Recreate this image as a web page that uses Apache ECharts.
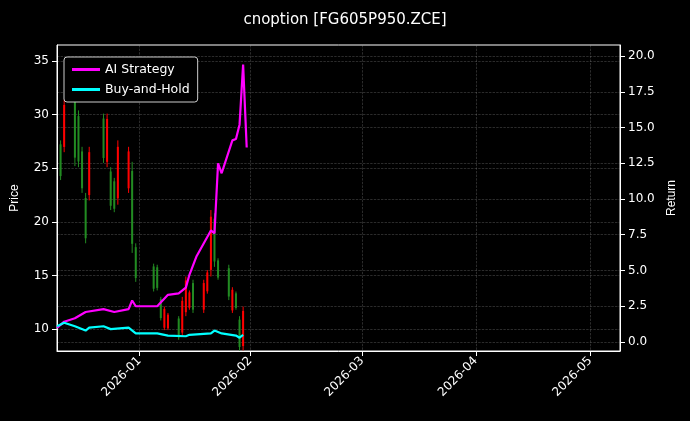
<!DOCTYPE html>
<html><head><meta charset="utf-8">
<script src="https://cdn.jsdelivr.net/npm/echarts@6/dist/echarts.min.js"></script>
<style>body{margin:0;background:#000}#c{width:690px;height:421px}</style>
</head><body><div id="c"></div>
<script>
// candles: date, low, high, up(1 = red) / down(0 = green)
var candleDates=['2025-12-10','2025-12-11','2025-12-14','2025-12-15','2025-12-16','2025-12-17','2025-12-18','2025-12-22','2025-12-23','2025-12-24','2025-12-25','2025-12-26','2025-12-29','2025-12-30','2025-12-31','2026-01-05','2026-01-06','2026-01-07','2026-01-08','2026-01-09','2026-01-12','2026-01-13','2026-01-14','2026-01-15','2026-01-16','2026-01-19','2026-01-20','2026-01-21','2026-01-22','2026-01-23','2026-01-26','2026-01-27','2026-01-28','2026-01-29','2026-01-30'];
var candleLow =[23.9,26.5,25.2,25.1,22.7,18.0,22.0,25.5,25.1,21.1,20.9,21.6,22.7,17.1,14.4,13.5,13.6,10.8,9.9,9.9,9.0,9.3,11.2,11.8,11.5,11.5,13.3,14.9,15.8,14.6,12.7,11.5,11.8,8.0,8.0];
var candleHigh=[27.6,31.4,33.1,30.4,27.0,22.7,27.0,30.1,30.1,25.1,24.1,27.6,27.0,25.6,18.0,16.1,16.0,13.0,12.1,11.5,11.2,13.0,14.9,13.6,14.6,14.6,15.5,21.1,20.8,16.6,16.0,13.9,13.5,11.2,12.1];
var candleUp  =[0,1,0,0,0,0,1,0,1,0,0,1,1,0,0,0,0,0,1,1,0,1,1,1,0,1,1,1,0,0,0,1,0,0,1];
var aiDates=['2025-12-09','2025-12-11','2025-12-14','2025-12-17','2025-12-22','2025-12-25','2025-12-29','2025-12-30','2025-12-31','2026-01-06','2026-01-09','2026-01-12','2026-01-14','2026-01-15','2026-01-17','2026-01-21','2026-01-22','2026-01-23','2026-01-24','2026-01-27','2026-01-28','2026-01-29','2026-01-30','2026-01-31'];
var aiValues=[0.98,1.42,1.66,2.1,2.3,2.1,2.3,2.9,2.5,2.5,3.3,3.4,3.8,4.7,6.0,7.8,7.6,12.5,11.8,14.1,14.2,15.2,19.4,13.6];
var bhDates=['2025-12-09','2025-12-11','2025-12-14','2025-12-17','2025-12-18','2025-12-22','2025-12-24','2025-12-29','2025-12-31','2026-01-06','2026-01-09','2026-01-14','2026-01-15','2026-01-21','2026-01-22','2026-01-24','2026-01-28','2026-01-29','2026-01-30'];
var bhValues=[1.1,1.35,1.1,0.8,1.0,1.1,0.9,1.0,0.6,0.6,0.45,0.4,0.5,0.6,0.8,0.6,0.45,0.3,0.5];
var monthLabels=['2026-01','2026-02','2026-03','2026-04','2026-05'];
var monthTickDays=[23,54,85.3,117,149];   // days after 2025-12-09 where the month ticks sit
var priceTicks=[10,15,20,25,30,35];
var returnTicks=[0,2.5,5,7.5,10,12.5,15,17.5,20];

var DAY=86400000;
function t(s){return Date.UTC(+s.slice(0,4),+s.slice(5,7)-1,s.length>7?+s.slice(8,10):1);}
var t0=t('2025-12-09');
var candleData=candleDates.map(function(d,i){
  var lo=candleLow[i],hi=candleHigh[i],r=hi-lo;
  var o=candleUp[i]?lo+r*0.1:hi-r*0.1, c=candleUp[i]?hi-r*0.1:lo+r*0.1;
  return [t(d),o,c,lo,hi,candleUp[i]];
});
var ts=monthTickDays.map(function(d){return t0+d*DAY;});
var labelOf={};ts.forEach(function(v,i){labelOf[v]=monthLabels[i];});
var grid='rgba(160,160,160,0.45)';
var chart=echarts.init(document.getElementById('c'));
chart.setOption({
  backgroundColor:'#000',
  animation:false,
  title:{text:'cnoption [FG605P950.ZCE]',left:'center',top:8,textStyle:{color:'#fff',fontSize:15,fontWeight:'normal',fontFamily:'DejaVu Sans'}},
  legend:{left:64,top:57,orient:'vertical',itemGap:7,backgroundColor:'#000',borderColor:'#ccc',borderWidth:1,borderRadius:3,padding:[6,8],
    itemWidth:28,itemHeight:3,textStyle:{color:'#fff',fontSize:12.5,fontFamily:'DejaVu Sans'},
    data:[{name:'AI Strategy',icon:'rect'},{name:'Buy-and-Hold',icon:'rect'}]},
  grid:{left:57,right:70,top:45,bottom:70,show:true,borderColor:'#fff',borderWidth:1},
  xAxis:{type:'value',min:t0,max:t0+157.3*DAY,
    axisLine:{onZero:false,lineStyle:{color:'#fff'}},
    axisTick:{customValues:ts,lineStyle:{color:'#fff'}},
    axisLabel:{customValues:ts,rotate:45,color:'#fff',fontSize:12,fontFamily:'DejaVu Sans',
      formatter:function(v){return labelOf[v]||'';}},
    splitLine:{show:true,lineStyle:{color:grid,type:'dashed',width:0.6}}},
  yAxis:[
    {type:'value',min:7.95,max:36.5,name:'Price',nameLocation:'middle',nameGap:36,nameTextStyle:{color:'#fff',fontSize:12},
      axisLine:{show:true,lineStyle:{color:'#fff'}},axisTick:{show:true,customValues:priceTicks},
      axisLabel:{customValues:priceTicks,color:'#fff',fontSize:12,fontFamily:'DejaVu Sans'},
      splitLine:{show:true,lineStyle:{color:grid,type:'dashed',width:0.6}}},
    {type:'value',min:-0.63,max:20.77,name:'Return',nameLocation:'middle',nameGap:44,nameTextStyle:{color:'#fff',fontSize:12},
      axisLine:{show:true,lineStyle:{color:'#fff'}},axisTick:{show:true,customValues:returnTicks},
      axisLabel:{customValues:returnTicks,color:'#fff',fontSize:12,fontFamily:'DejaVu Sans',
        formatter:function(v){return v.toFixed(1);}},
      splitLine:{show:true,lineStyle:{color:grid,type:'dashed',width:0.6}}}
  ],
  series:[
    {type:'custom',name:'price',data:candleData,encode:{x:0,y:[1,2,3,4]},
      renderItem:function(p,api){
        var x=api.coord([api.value(0),api.value(3)])[0];
        var lo=api.coord([api.value(0),api.value(3)])[1],hi=api.coord([api.value(0),api.value(4)])[1];
        var o=api.coord([api.value(0),api.value(1)])[1],c=api.coord([api.value(0),api.value(2)])[1];
        var col=api.value(5)?'#ff0000':'#228b22';
        return {type:'group',children:[
          {type:'line',shape:{x1:x,y1:hi,x2:x,y2:lo},style:{stroke:col,lineWidth:1}},
          {type:'rect',shape:{x:x-1,y:Math.min(o,c),width:2,height:Math.abs(o-c)},style:{fill:col}}]};
      }},
    {type:'line',name:'AI Strategy',yAxisIndex:1,showSymbol:false,color:'#ff00ff',lineStyle:{width:2.2},
      data:aiDates.map(function(d,i){return [t(d),aiValues[i]];})},
    {type:'line',name:'Buy-and-Hold',yAxisIndex:1,showSymbol:false,color:'#00ffff',lineStyle:{width:2.2},
      data:bhDates.map(function(d,i){return [t(d),bhValues[i]];})}
  ]
});
</script></body></html>
